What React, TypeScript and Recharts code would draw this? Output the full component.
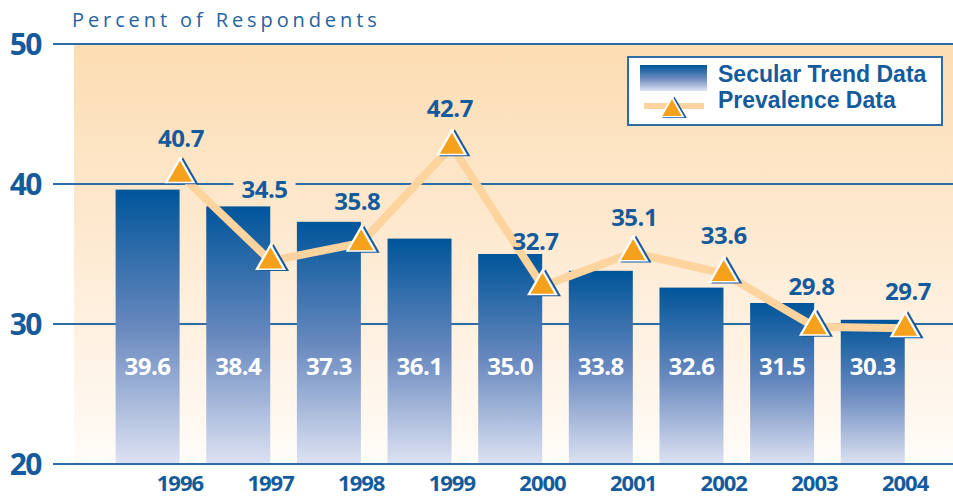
import React from "react";
import {
  ComposedChart,
  Bar,
  Line,
  XAxis,
  YAxis,
  CartesianGrid,
  LabelList,
  ReferenceLine,
} from "recharts";

const years = ["1996", "1997", "1998", "1999", "2000", "2001", "2002", "2003", "2004"];
const secularTrend = [39.6, 38.4, 37.3, 36.1, 35.0, 33.8, 32.6, 31.5, 30.3];
const prevalence = [40.7, 34.5, 35.8, 42.7, 32.7, 35.1, 33.6, 29.8, 29.7];
const yTicks = [20, 30, 40, 50];

// annotation placement of the prevalence labels (relative to each point)
const prevLabelDx = [1, -6, -4, -2, -7, 1, 0, -3, 3];
const prevLabelDy = [-27, -63, -33, -29, -36, -27, -30, -32, -28];
const prevLabelKnockout = [false, true, false, false, false, false, false, false, false];

const data = years.map((year, i) => ({
  year,
  secular: secularTrend[i],
  prevalence: prevalence[i],
}));

const BLUE = "#155B9C";
const GRID = "#2F6BA5";
const FONT = "'Open Sans', 'DejaVu Sans', sans-serif";
const LEGEND_FONT = "'Liberation Sans', Arial, sans-serif";

function tri(cx: number, cy: number, hw: number, h: number) {
  const top = cy - (2 * h) / 3;
  const bot = cy + h / 3;
  return `${cx},${top} ${cx + hw},${bot} ${cx - hw},${bot}`;
}

const Marker = ({ cx, cy, s = 1 }: { cx: number; cy: number; s?: number }) => (
  <g>
    <polygon points={tri(cx + 3 * s, cy + 1 * s, 15.5 * s, 27 * s)} fill="#1A5A9B" />
    <polygon points={tri(cx, cy, 15.5 * s, 27 * s)} fill="#ffffff" />
    <polygon points={tri(cx, cy + 0.5 * s, 12 * s, 21 * s)} fill="#F5A11C" />
  </g>
);

const renderDot = (props: any) => {
  const { cx, cy, index } = props;
  if (cx == null || cy == null) return <g key={`d${index}`} />;
  return <Marker key={`d${index}`} cx={cx} cy={cy} />;
};

const renderPrevLabel = (props: any) => {
  const { x, y, index, value } = props;
  const tx = x + prevLabelDx[index];
  const ty = y + prevLabelDy[index];
  return (
    <g key={`pl${index}`}>
      {prevLabelKnockout[index] && (
        <rect x={tx - 31} y={ty - 20} width={62} height={24} fill="url(#bgGrad)" />
      )}
      <text
        x={tx}
        y={ty}
        textAnchor="middle"
        fontFamily={FONT}
        fontWeight={700}
        fontSize={24}
        fill={BLUE}
        letterSpacing={-0.5}
      >
        {Number(value).toFixed(1)}
      </text>
    </g>
  );
};

const BarShape = (props: any) => {
  const { x, y, width, height } = props;
  return <rect x={x - width / 2} y={y} width={width} height={height} fill="url(#barGrad)" />;
};

const renderBarLabel = (props: any) => {
  const { x, y, height, value, index } = props;
  return (
    <text
      key={`bl${index}`}
      x={x}
      y={y + height - 89}
      textAnchor="middle"
      fontFamily={FONT}
      fontWeight={700}
      fontSize={24}
      fill="#ffffff"
      letterSpacing={-0.5}
    >
      {Number(value).toFixed(1)}
    </text>
  );
};

const YTick = (props: any) => {
  const { x, y, payload } = props;
  return (
    <text
      x={x}
      y={y + 11}
      textAnchor="end"
      fontFamily={FONT}
      fontWeight={700}
      fontSize={30}
      fill={BLUE}
      letterSpacing={-1.5}
    >
      {payload.value}
    </text>
  );
};

const XTick = (props: any) => {
  const { x, y, payload } = props;
  return (
    <text
      x={x}
      y={y + 27}
      textAnchor="middle"
      fontFamily={FONT}
      fontWeight={700}
      fontSize={22}
      fill={BLUE}
      letterSpacing={-1}
    >
      {payload.value}
    </text>
  );
};

export default function App() {
  return (
    <div style={{ position: "absolute", left: 0, top: 0, width: 953, height: 497, background: "#ffffff" }}>
      <svg
        width={953}
        height={40}
        style={{ position: "absolute", left: 0, top: 0, pointerEvents: "none", zIndex: 2 }}
      >
        <text x={72} y={27} fontFamily={FONT} fontSize={20} fill="#2563A0" letterSpacing={3.9}>
          Percent of Respondents
        </text>
      </svg>
      <ComposedChart
        width={953}
        height={497}
        data={data}
        margin={{ top: 44, right: 0, bottom: 0, left: 0 }}
        barSize={64}
      >
        <defs>
          <linearGradient id="bgGrad" gradientUnits="userSpaceOnUse" x1="0" y1="44" x2="0" y2="464">
            <stop offset="0" stopColor="#FCDDB2" />
            <stop offset="0.5" stopColor="#FEEBD4" />
            <stop offset="1" stopColor="#FFFCF8" />
          </linearGradient>
          <linearGradient id="barGrad" x1="0" y1="0" x2="0" y2="1">
            <stop offset="0" stopColor="#00559A" />
            <stop offset="0.5" stopColor="#6788BE" />
            <stop offset="1" stopColor="#DDE2F2" />
          </linearGradient>
        </defs>
        <CartesianGrid
          horizontal
          vertical={false}
          fill="url(#bgGrad)"
          fillOpacity={1}
          stroke={GRID}
          strokeWidth={2}
          strokeDasharray=""
        />
        <XAxis
          dataKey="year"
          height={33}
          axisLine={false}
          tickLine={false}
          tickSize={0}
          tickMargin={0}
          padding={{ left: 60.6, right: 2.6 }}
          tick={<XTick />}
          interval={0}
        />
        <YAxis
          width={74}
          domain={[20, 50]}
          ticks={yTicks}
          axisLine={false}
          tickSize={21}
          tickMargin={12}
          tickLine={{ stroke: GRID, strokeWidth: 2 }}
          tick={<YTick />}
          allowDataOverflow
        />
        <Bar dataKey="secular" shape={<BarShape />} isAnimationActive={false}>
          <LabelList dataKey="secular" content={renderBarLabel} />
        </Bar>
        <ReferenceLine y={20} stroke={GRID} strokeWidth={2} />
        <Line
          type="linear"
          dataKey="prevalence"
          stroke="#FDD39E"
          strokeWidth={8}
          dot={renderDot}
          activeDot={false}
          label={renderPrevLabel}
          isAnimationActive={false}
        />
      </ComposedChart>
      <div
        style={{
          position: "absolute",
          left: 627,
          top: 56,
          width: 316,
          height: 70,
          boxSizing: "border-box",
          border: `2px solid ${GRID}`,
          background: "#ffffff",
        }}
      >
        <svg width={312} height={66} style={{ display: "block" }}>
          <defs>
            <linearGradient id="legBarGrad" x1="0" y1="0" x2="0" y2="1">
              <stop offset="0" stopColor="#00559A" />
              <stop offset="0.5" stopColor="#6788BE" />
              <stop offset="1" stopColor="#DDE2F2" />
            </linearGradient>
          </defs>
          <rect x={11} y={7} width={67} height={26} fill="url(#legBarGrad)" />
          <line x1={15} x2={75} y1={48} y2={48} stroke="#FDD39E" strokeWidth={6} />
          <Marker cx={43} cy={52} s={0.8} />
          <text x={89} y={24} fontFamily={LEGEND_FONT} fontWeight={700} fontSize={23} fill={BLUE}>
            Secular Trend Data
          </text>
          <text x={89} y={50} fontFamily={LEGEND_FONT} fontWeight={700} fontSize={23} fill={BLUE}>
            Prevalence Data
          </text>
        </svg>
      </div>
    </div>
  );
}
